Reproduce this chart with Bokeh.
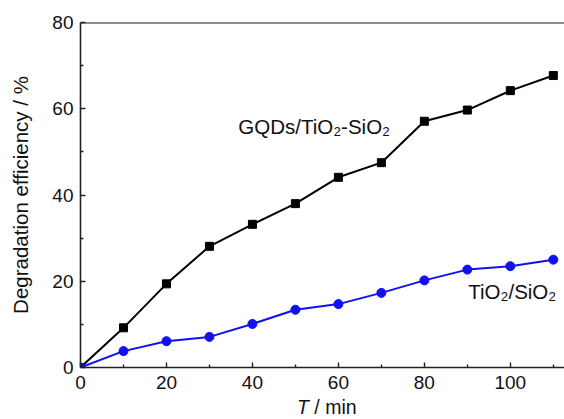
from bokeh.plotting import figure
from bokeh.models import Range1d, Span, Label, FixedTicker, Div
from bokeh.layouts import column
from bokeh.embed import file_html
from bokeh.resources import INLINE

# data
time_min = [0, 10, 20, 30, 40, 50, 60, 70, 80, 90, 100, 110]
gqds_tio2_sio2 = [0, 9.2, 19.4, 28.1, 33.2, 38.0, 44.1, 47.5, 57.1, 59.7, 64.2, 67.7]
tio2_sio2 = [0, 3.8, 6.1, 7.1, 10.1, 13.4, 14.7, 17.3, 20.2, 22.7, 23.5, 25.0]
x_major = [0, 20, 40, 60, 80, 100]
x_minor = [10, 30, 50, 70, 90, 110]
y_major = [0, 20, 40, 60, 80]
y_minor = [10, 30, 50, 70]

FONT = "Liberation Sans"
INK = "#111111"

p = figure(width=564, height=395, output_backend="svg", toolbar_location=None,
           x_range=Range1d(0, 112.6), y_range=Range1d(0, 80),
           min_border_left=80, min_border_right=0, min_border_top=22, min_border_bottom=28)
p.outline_line_color = None
p.xgrid.visible = False
p.ygrid.visible = False
p.background_fill_color = "white"
p.border_fill_color = "white"

for ax in (p.xaxis[0], p.yaxis[0]):
    ax.axis_line_width = 1.6
    ax.axis_line_color = "#222222"
    ax.major_tick_line_color = "#222222"
    ax.minor_tick_line_color = "#222222"
    ax.major_tick_line_width = 1.4
    ax.minor_tick_line_width = 1.4
    ax.major_tick_in = 5
    ax.major_tick_out = 0
    ax.minor_tick_in = 3
    ax.minor_tick_out = 0
    ax.major_label_text_font = FONT
    ax.major_label_text_font_size = "19px"
    ax.major_label_text_color = INK

p.xaxis.major_label_standoff = 8
p.yaxis.major_label_standoff = 7

p.xaxis.ticker = FixedTicker(ticks=x_major, minor_ticks=x_minor)
p.yaxis.ticker = FixedTicker(ticks=y_major, minor_ticks=y_minor)

p.yaxis.axis_label = "Degradation efficiency / %"
p.yaxis.axis_label_text_font = FONT
p.yaxis.axis_label_text_font_size = "20.5px"
p.yaxis.axis_label_text_font_style = "normal"
p.yaxis.axis_label_text_color = INK
p.yaxis.axis_label_standoff = 17

# top border line
p.add_layout(Span(location=80, dimension="width", line_color="#222222", line_width=2))

# series
p.line(time_min, gqds_tio2_sio2, line_color="black", line_width=2)
p.scatter(time_min, gqds_tio2_sio2, marker="square", size=8, fill_color="black", line_color="black")
p.line(time_min, tio2_sio2, line_color="#1010f0", line_width=2)
p.scatter(time_min, tio2_sio2, marker="circle", size=9, fill_color="#1010f0", line_color="#1010f0")

# annotations
p.add_layout(Label(x=36.7, y=55.8, text="GQDs/TiO\u2082-SiO\u2082", text_font=FONT, text_font_size="20.5px",
                   text_baseline="middle", text_color=INK))
p.add_layout(Label(x=90.2, y=17.6, text="TiO\u2082/SiO\u2082", text_font=FONT, text_font_size="20.5px",
                   text_baseline="middle", text_color=INK))

# x axis label with italic T
xlabel = Div(text="<i>T</i> / min", width=564, height=24, margin=0,
             styles={"font-family": FONT, "font-size": "19.5px", "line-height": "24px",
                     "padding-left": "297px", "padding-top": "0px", "color": INK,
                     "box-sizing": "border-box", "white-space": "nowrap"})

layout = column(p, xlabel, spacing=0)

open("out.html", "w").write(file_html(layout, INLINE))
